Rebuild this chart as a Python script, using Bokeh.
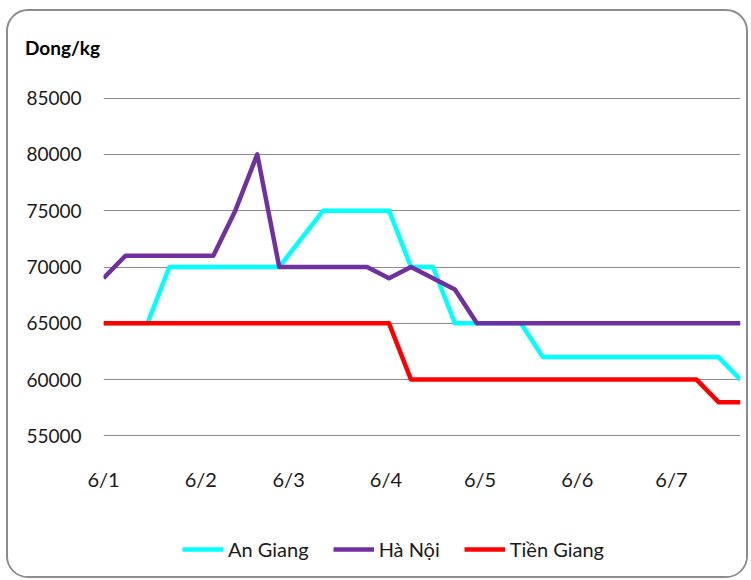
import pandas as pd
from bokeh.plotting import figure
from bokeh.layouts import column
from bokeh.models import Range1d, FixedTicker, Legend, LegendItem, ColumnDataSource, Div
from bokeh.embed import file_html
from bokeh.resources import INLINE

# ---- data (weekly observations) ----
dates = pd.date_range("2011-01-06", periods=30, freq="7D")

an_giang = [65000, 65000, 65000, 70000, 70000, 70000, 70000, 70000, 70000, 72500,
            75000, 75000, 75000, 75000, 70000, 70000, 65000, 65000, 65000, 65000,
            62000, 62000, 62000, 62000, 62000, 62000, 62000, 62000, 62000, 60000]
ha_noi = [69000, 71000, 71000, 71000, 71000, 71000, 75000, 80000, 70000, 70000,
          70000, 70000, 70000, 69000, 70000, 69000, 68000, 65000, 65000, 65000,
          65000, 65000, 65000, 65000, 65000, 65000, 65000, 65000, 65000, 65000]
tien_giang = [65000, 65000, 65000, 65000, 65000, 65000, 65000, 65000, 65000, 65000,
              65000, 65000, 65000, 65000, 60000, 60000, 60000, 60000, 60000, 60000,
              60000, 60000, 60000, 60000, 60000, 60000, 60000, 60000, 58000, 58000]

series_names = ["An Giang", "Hà Nội", "Tiền Giang"]
series_colors = ["#00FFFF", "#7030A0", "#FF0000"]

tick_dates = ["2011-01-06", "2011-02-06", "2011-03-06", "2011-04-06",
              "2011-05-06", "2011-06-06", "2011-07-06"]
tick_labels = ["6/1", "6/2", "6/3", "6/4", "6/5", "6/6", "6/7"]
y_ticks = [55000, 60000, 65000, 70000, 75000, 80000, 85000]
unit_label = "Dong/kg"

FONT = "Lato"

def to_ms(d):
    return int(pd.Timestamp(d).value // 10**6)

x_ms = [to_ms(d) for d in dates]
tick_ms = [to_ms(d) for d in tick_dates]

src = ColumnDataSource(dict(x=x_ms, ag=an_giang, hn=ha_noi, tg=tien_giang))
cols = ["ag", "hn", "tg"]

# ---------------- unit label strip ----------------
head = Div(text=('<div style="padding:27px 0 0 17px;font-family:Lato;font-weight:bold;'
                 'font-size:19px;line-height:19px;color:#000;">%s</div>' % unit_label),
           width=738, height=50, margin=0)

# ---------------- main chart ----------------
# tiny padding so the gridlines at both range ends are drawn
p = figure(width=738, height=440, output_backend="svg", toolbar_location=None,
           x_range=Range1d(x_ms[0], x_ms[-1]),
           y_range=Range1d(y_ticks[0] - 50, y_ticks[-1] + 50),
           min_border_left=95, min_border_right=6, min_border_top=36, min_border_bottom=65)
p.outline_line_color = None
p.background_fill_color = "white"
p.border_fill_color = "white"

for col, color in zip(cols, series_colors):
    p.line("x", col, source=src, line_color=color, line_width=4.5, line_join="round")

p.xgrid.visible = False
p.ygrid.ticker = FixedTicker(ticks=y_ticks)
p.ygrid.grid_line_color = "#8a8a8a"
p.ygrid.grid_line_width = 1.2
p.ygrid.level = "underlay"

for ax in (p.xaxis[0], p.yaxis[0]):
    ax.axis_line_color = None
    ax.major_tick_line_color = None
    ax.minor_tick_line_color = None
    ax.major_label_text_font = FONT
    ax.major_label_text_font_size = "19px"
    ax.major_label_text_color = "#1a1a1a"

p.xaxis[0].major_label_text_font_size = "20px"
p.yaxis[0].ticker = FixedTicker(ticks=y_ticks)
p.yaxis[0].major_label_standoff = 16
p.xaxis[0].ticker = FixedTicker(ticks=tick_ms)
p.xaxis[0].major_label_overrides = {t: l for t, l in zip(tick_ms, tick_labels)}
p.xaxis[0].major_label_standoff = 24

# ---------------- legend strip ----------------
lf = figure(width=738, height=75, output_backend="svg", toolbar_location=None,
            x_range=Range1d(0, 1), y_range=Range1d(0, 1),
            min_border=0, x_axis_type=None, y_axis_type=None)
lf.outline_line_color = None
lf.background_fill_color = "white"
lf.border_fill_color = "white"
lf.grid.visible = False
leg_renderers = []
for col, color in zip(cols, series_colors):
    # same series; outside this strip's ranges, used only as legend samples
    leg_renderers.append(lf.line("x", col, source=src, line_color=color, line_width=4.5))

legend = Legend(items=[LegendItem(label=n, renderers=[r]) for n, r in zip(series_names, leg_renderers)],
                orientation="horizontal", location=(79, 15),
                border_line_color=None, background_fill_alpha=0,
                padding=0, margin=0, spacing=24, label_standoff=5,
                glyph_width=41, glyph_height=24,
                label_text_font=FONT, label_text_font_size="20px", label_text_color="#1a1a1a")
lf.add_layout(legend)

layout = column(head, p, lf, spacing=0)
layout.styles = {"border": "2px solid #8c8c8c", "border-radius": "22px",
                 "margin-left": "6px", "margin-top": "9px", "overflow": "hidden"}

open("out.html", "w").write(file_html(layout, INLINE))
